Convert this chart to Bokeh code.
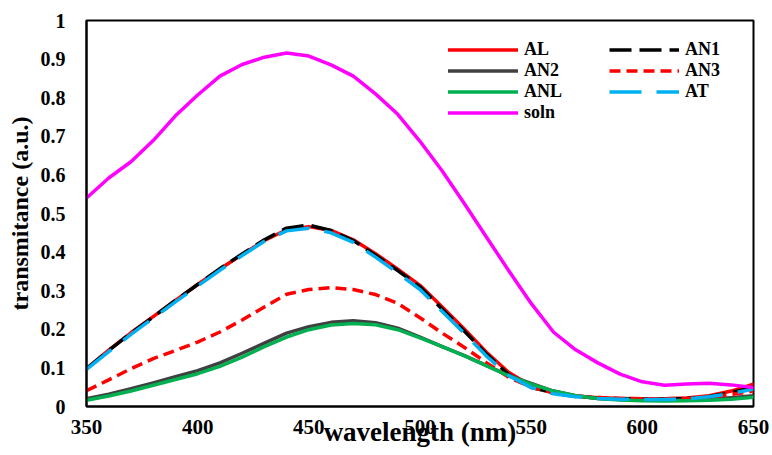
from bokeh.plotting import figure
from bokeh.models import Legend, LegendItem, FixedTicker, Range1d
from bokeh.embed import file_html
from bokeh.resources import INLINE

wavelength = list(range(350, 651, 10))

AL = [0.098, 0.146, 0.191, 0.233, 0.275, 0.316, 0.356, 0.394, 0.430, 0.458, 0.466,
      0.456, 0.432, 0.396, 0.356, 0.314, 0.258, 0.200, 0.140, 0.088, 0.053,
      0.036, 0.027, 0.023, 0.021, 0.020, 0.020, 0.022, 0.028, 0.040, 0.058]
AN1 = [0.098, 0.145, 0.190, 0.232, 0.275, 0.316, 0.357, 0.395, 0.432, 0.462, 0.470,
       0.456, 0.430, 0.392, 0.352, 0.310, 0.252, 0.195, 0.135, 0.082, 0.050,
       0.035, 0.026, 0.022, 0.020, 0.019, 0.019, 0.021, 0.026, 0.036, 0.050]
AN2 = [0.020, 0.032, 0.046, 0.061, 0.077, 0.093, 0.113, 0.138, 0.164, 0.190, 0.207,
       0.218, 0.222, 0.217, 0.203, 0.180, 0.155, 0.132, 0.106, 0.080, 0.060,
       0.040, 0.028, 0.021, 0.018, 0.016, 0.016, 0.017, 0.019, 0.023, 0.028]
AN3 = [0.041, 0.069, 0.098, 0.124, 0.145, 0.167, 0.193, 0.224, 0.258, 0.291, 0.303,
       0.308, 0.303, 0.290, 0.267, 0.230, 0.190, 0.153, 0.113, 0.075, 0.050,
       0.035, 0.027, 0.023, 0.021, 0.020, 0.020, 0.021, 0.025, 0.031, 0.040]
ANL = [0.016, 0.027, 0.040, 0.055, 0.070, 0.085, 0.104, 0.128, 0.155, 0.180, 0.199,
       0.211, 0.215, 0.212, 0.199, 0.178, 0.155, 0.131, 0.105, 0.079, 0.058,
       0.040, 0.028, 0.021, 0.017, 0.015, 0.014, 0.015, 0.016, 0.019, 0.024]
AT = [0.096, 0.142, 0.187, 0.229, 0.271, 0.312, 0.353, 0.391, 0.428, 0.455, 0.462,
      0.450, 0.425, 0.387, 0.346, 0.303, 0.246, 0.189, 0.130, 0.080, 0.049,
      0.033, 0.025, 0.021, 0.019, 0.018, 0.018, 0.020, 0.025, 0.034, 0.045]
soln = [0.540, 0.592, 0.634, 0.689, 0.753, 0.807, 0.856, 0.886, 0.905, 0.916, 0.908,
        0.885, 0.856, 0.810, 0.757, 0.687, 0.610, 0.525, 0.438, 0.351, 0.267,
        0.193, 0.147, 0.113, 0.084, 0.064, 0.055, 0.058, 0.060, 0.056, 0.049]

x_ticks = [350, 400, 450, 500, 550, 600, 650]
x_tick_labels = ["350", "400", "450", "500", "550", "600", "650"]
y_ticks = [0, 0.1, 0.2, 0.3, 0.4, 0.5, 0.6, 0.7, 0.8, 0.9, 1]
y_tick_labels = ["0", "0.1", "0.2", "0.3", "0.4", "0.5", "0.6", "0.7", "0.8", "0.9", "1"]

series = [
    ("AL", AL, "#FF0000", "solid"),
    ("AN1", AN1, "#000000", "22 8"),
    ("AN2", AN2, "#404040", "solid"),
    ("AN3", AN3, "#FF0000", "11 6"),
    ("ANL", ANL, "#00B050", "solid"),
    ("AT", AT, "#00B0F0", "32 15"),
    ("soln", soln, "#FF00FF", "solid"),
]

FONT = "'Liberation Serif', 'Times New Roman', serif"

p = figure(width=772, height=455, output_backend="svg", toolbar_location=None,
           x_range=Range1d(350, 650), y_range=Range1d(0, 1),
           min_border_left=86, min_border_right=19, min_border_top=20, min_border_bottom=49)
p.background_fill_color = "white"
p.border_fill_color = "white"
p.outline_line_color = "black"
p.outline_line_width = 2
p.xgrid.visible = False
p.ygrid.visible = False

renderers = {}
for name, ys, color, dash in series:
    r = p.line(wavelength, ys, line_color=color, line_width=3.5, line_dash=dash,
               line_cap="round" if dash == "solid" else "butt", line_join="round")
    renderers[name] = r

for ax in (p.xaxis[0], p.yaxis[0]):
    ax.axis_line_color = "black"
    ax.axis_line_width = 2
    ax.major_tick_line_color = None
    ax.minor_tick_line_color = None
    ax.major_tick_out = 0
    ax.major_tick_in = 0
    ax.major_label_text_font = FONT
    ax.major_label_text_font_style = "bold"
    ax.major_label_text_color = "black"
    ax.axis_label_text_font = FONT
    ax.axis_label_text_font_style = "bold"
    ax.axis_label_text_color = "black"

p.xaxis.ticker = FixedTicker(ticks=x_ticks)
p.xaxis.major_label_overrides = {t: l for t, l in zip(x_ticks, x_tick_labels)}
p.yaxis.ticker = FixedTicker(ticks=y_ticks)
p.yaxis.major_label_overrides = {t: l for t, l in zip(y_ticks, y_tick_labels)}
p.xaxis.major_label_text_font_size = "21px"
p.yaxis.major_label_text_font_size = "20px"
p.xaxis.major_label_standoff = 13
p.yaxis.major_label_standoff = 21
p.xaxis.axis_label = "wavelength (nm)"
p.yaxis.axis_label = "transmitance (a.u.)"
p.xaxis.axis_label_text_font_size = "27px"
p.yaxis.axis_label_text_font_size = "24px"
p.xaxis.axis_label_standoff = -20
p.yaxis.axis_label_standoff = 5


def make_legend(names, loc):
    leg = Legend(items=[LegendItem(label=n, renderers=[renderers[n]]) for n in names],
                 location=loc)
    leg.label_text_font = FONT
    leg.label_text_font_style = "bold"
    leg.label_text_font_size = "18px"
    leg.label_text_color = "black"
    leg.glyph_width = 70
    leg.glyph_height = 21
    leg.label_height = 21
    leg.label_standoff = 6
    leg.spacing = 0
    leg.padding = 0
    leg.margin = 0
    leg.border_line_color = None
    leg.background_fill_alpha = 0
    return leg


p.add_layout(make_legend(["AL", "AN2", "ANL", "soln"], (362, 283)), "center")
p.add_layout(make_legend(["AN1", "AN3", "AT"], (523, 304)), "center")

open("out.html", "w").write(file_html(p, INLINE))
